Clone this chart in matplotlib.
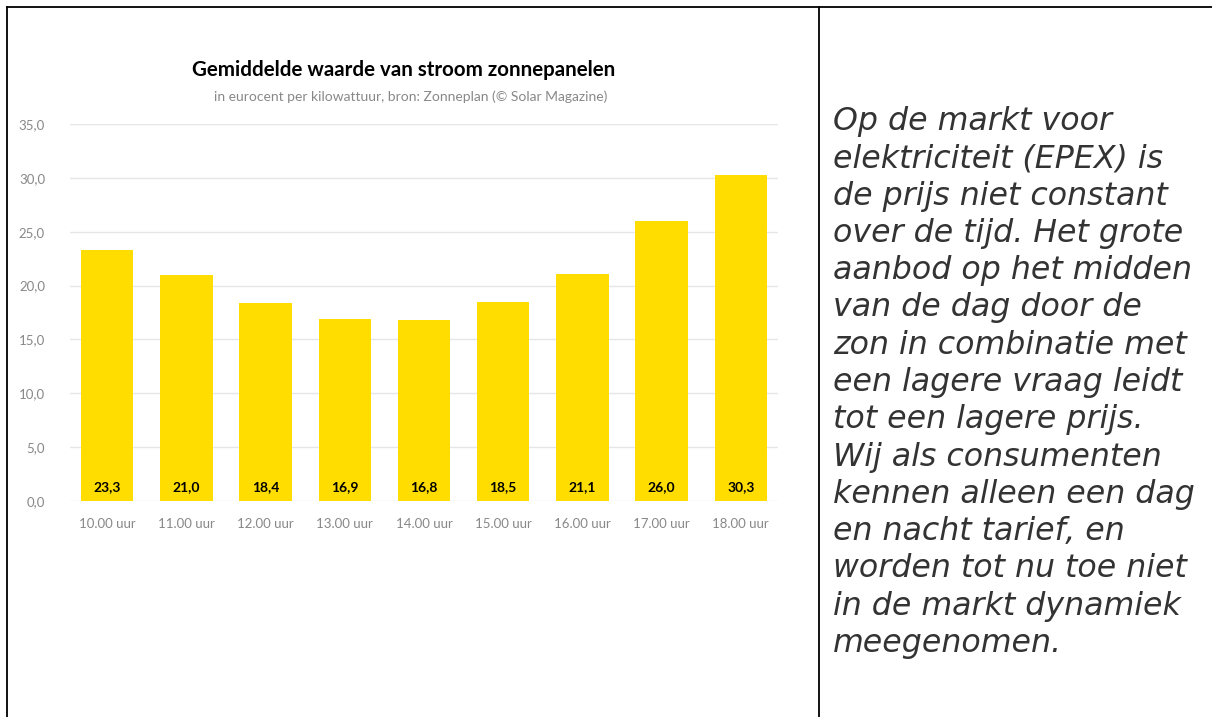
import matplotlib.pyplot as plt
from matplotlib.lines import Line2D

# data
hours = ['10.00 uur', '11.00 uur', '12.00 uur', '13.00 uur', '14.00 uur',
         '15.00 uur', '16.00 uur', '17.00 uur', '18.00 uur']
values = [23.3, 21.0, 18.4, 16.9, 16.8, 18.5, 21.1, 26.0, 30.3]
yticks = [0, 5, 10, 15, 20, 25, 30, 35]

title = 'Gemiddelde waarde van stroom zonnepanelen'
subtitle = 'in eurocent per kilowattuur, bron: Zonneplan (© Solar Magazine)'
side_text = ('Op de markt voor\nelektriciteit (EPEX) is\nde prijs niet constant\n'
             'over de tijd. Het grote\naanbod op het midden\nvan de dag door de\n'
             'zon in combinatie met\neen lagere vraag leidt\ntot een lagere prijs.\n'
             'Wij als consumenten\nkennen alleen een dag\nen nacht tarief, en\n'
             'worden tot nu toe niet\nin de markt dynamiek\nmeegenomen.')

W, H = 1212, 717
fig = plt.figure(figsize=(W / 100, H / 100), dpi=100)

# table borders
def fx(px): return px / W
def fy(py): return 1 - py / H
for xs, ys in [([7, 7], [7, H]), ([7, W], [7, 7]), ([819, 819], [7, H])]:
    fig.add_artist(Line2D([fx(x) for x in xs], [fy(y) for y in ys],
                          color='black', lw=1.3))

# chart
ax = fig.add_axes([fx(70), fy(501), fx(778) - fx(70), fy(124) - fy(501)])
x = range(len(hours))
ax.bar(x, values, width=0.66, color='#ffdd00', zorder=2)
for i, v in enumerate(values):
    ax.text(i, 1.3, f'{v:.1f}'.replace('.', ','), ha='center', va='center',
            fontsize=10, fontweight='bold', family='Lato', color='black', zorder=3)
ax.set_ylim(0, 35)
ax.set_xlim(-0.47, 8.47)
ax.set_yticks(yticks)
ax.set_yticklabels([f'{t:.1f}'.replace('.', ',') for t in yticks])
ax.set_xticks(list(x))
ax.set_xticklabels(hours)
ax.grid(axis='y', color='#e6e6e6', lw=1, zorder=0)
for s in ax.spines.values():
    s.set_visible(False)
ax.tick_params(length=0, labelsize=9.5, labelcolor='#888888', pad=12)
for lab in ax.get_xticklabels() + ax.get_yticklabels():
    lab.set_family('Lato')
ax.tick_params(axis='y', pad=18)

fig.text(fx(404), fy(70), title, ha='center', va='center', fontsize=14.8,
         fontweight='bold', family='Lato', color='black')
fig.text(fx(411), fy(97), subtitle, ha='center', va='center', fontsize=10,
         family='Lato', color='#888888')

fig.text(fx(833), fy(106), side_text, ha='left', va='top', fontsize=22.8,
         style='italic', color='#333333', linespacing=1.262)

fig.savefig('out.png', dpi=100)
